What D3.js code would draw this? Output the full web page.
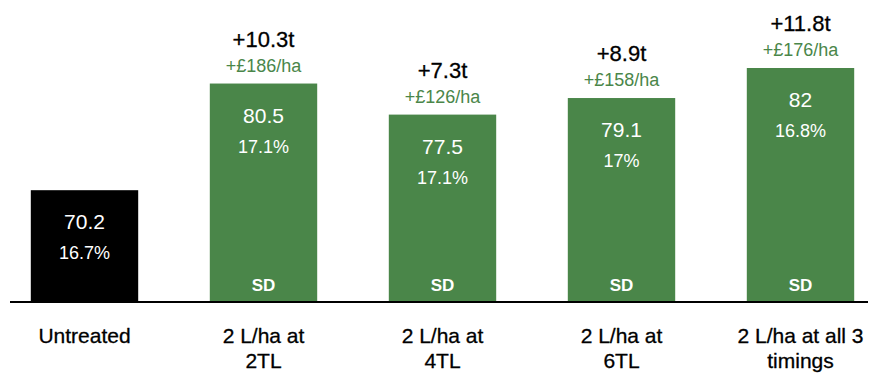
<!DOCTYPE html>
<html>
<head>
<meta charset="utf-8">
<script src="https://cdn.jsdelivr.net/npm/d3@7"></script>
<style>
  html, body { margin: 0; padding: 0; background: #ffffff; }
  svg { display: block; font-family: "Liberation Sans", Arial, Helvetica, sans-serif; }
  .heavy { paint-order: stroke; stroke-width: 0.3px; stroke-linejoin: round; }
</style>
</head>
<body>
<svg id="chart" width="869" height="376"></svg>
<script>
// Yield (t/ha) by treatment
const categories = ["Untreated", "2 L/ha at 2TL", "2 L/ha at 4TL", "2 L/ha at 6TL", "2 L/ha at all 3 timings"];
const categoryLines = [["Untreated"], ["2 L/ha at", "2TL"], ["2 L/ha at", "4TL"], ["2 L/ha at", "6TL"], ["2 L/ha at all 3", "timings"]];
const yields = [70.2, 80.5, 77.5, 79.1, 82];
const percents = ["16.7%", "17.1%", "17.1%", "17%", "16.8%"];
const yieldGain = [null, "+10.3t", "+7.3t", "+8.9t", "+11.8t"];
const marginGain = [null, "+£186/ha", "+£126/ha", "+£158/ha", "+£176/ha"];
const sigLabels = [null, "SD", "SD", "SD", "SD"];

const GREEN = "#4a8649";
const svg = d3.select("#chart");
const baseY = 301;

const x = d3.scaleBand()
  .domain(categories)
  .range([-5, 890])
  .paddingInner(0.4)
  .paddingOuter(0.2);

const y = d3.scaleLinear()
  .domain([59.5, 82])
  .range([baseY, 68]);

const rows = categories.map((c, i) => ({
  c, i, v: yields[i], pct: percents[i], gain: yieldGain[i], margin: marginGain[i], sd: sigLabels[i]
}));

const g = svg.append("g");

// bars
g.selectAll("rect.bar").data(rows).join("rect")
  .attr("class", "bar")
  .attr("x", d => x(d.c))
  .attr("width", x.bandwidth())
  .attr("y", d => y(d.v))
  .attr("height", d => baseY - y(d.v))
  .attr("fill", d => d.i === 0 ? "#000000" : GREEN);

const cx = d => x(d.c) + x.bandwidth() / 2;

// value labels inside bars
g.selectAll("text.val").data(rows).join("text")
  .attr("class", "val")
  .attr("x", cx)
  .attr("y", d => y(d.v) + 39)
  .attr("text-anchor", "middle")
  .attr("fill", "#ffffff")
  .attr("font-size", 21)
  .text(d => d.v);

g.selectAll("text.pct").data(rows).join("text")
  .attr("class", "pct")
  .attr("x", cx)
  .attr("y", d => y(d.v) + 69)
  .attr("text-anchor", "middle")
  .attr("fill", "#ffffff")
  .attr("font-size", 18)
  .text(d => d.pct);

// significance labels at bar foot
g.selectAll("text.sd").data(rows.filter(d => d.sd)).join("text")
  .attr("class", "sd")
  .attr("x", cx)
  .attr("y", baseY - 10)
  .attr("text-anchor", "middle")
  .attr("fill", "#ffffff")
  .attr("font-size", 17)
  .attr("font-weight", "bold")
  .text(d => d.sd);

// gains above treated bars
g.selectAll("text.gain").data(rows.filter(d => d.gain)).join("text")
  .attr("class", "gain heavy")
  .attr("x", cx)
  .attr("y", d => y(d.v) - 37)
  .attr("text-anchor", "middle")
  .attr("fill", "#000000")
  .attr("stroke", "#000000")
  .attr("font-size", 22)
  .text(d => d.gain);

g.selectAll("text.margin").data(rows.filter(d => d.margin)).join("text")
  .attr("class", "margin")
  .attr("x", cx)
  .attr("y", d => y(d.v) - 12)
  .attr("text-anchor", "middle")
  .attr("fill", GREEN)
  .attr("font-size", 18)
  .text(d => d.margin);

// baseline axis
const axis = d3.axisBottom(x).tickSize(0).tickFormat("");
const ax = svg.append("g").attr("transform", `translate(0,${baseY + 1})`).call(axis);
ax.select(".domain").remove();
ax.append("line")
  .attr("x1", 10).attr("x2", 868)
  .attr("y1", 0).attr("y2", 0)
  .attr("stroke", "#000").attr("stroke-width", 2);

// category labels
const cat = svg.append("g").selectAll("text.cat").data(rows).join("text")
  .attr("class", "cat heavy")
  .attr("x", cx)
  .attr("y", 343)
  .attr("text-anchor", "middle")
  .attr("fill", "#000")
  .attr("stroke", "#000")
  .attr("font-size", 21);
cat.selectAll("tspan").data(d => categoryLines[d.i].map(t => ({ t, x: cx(d) }))).join("tspan")
  .attr("x", t => t.x)
  .attr("dy", (t, j) => j === 0 ? 0 : 25)
  .text(t => t.t);
</script>
</body>
</html>
